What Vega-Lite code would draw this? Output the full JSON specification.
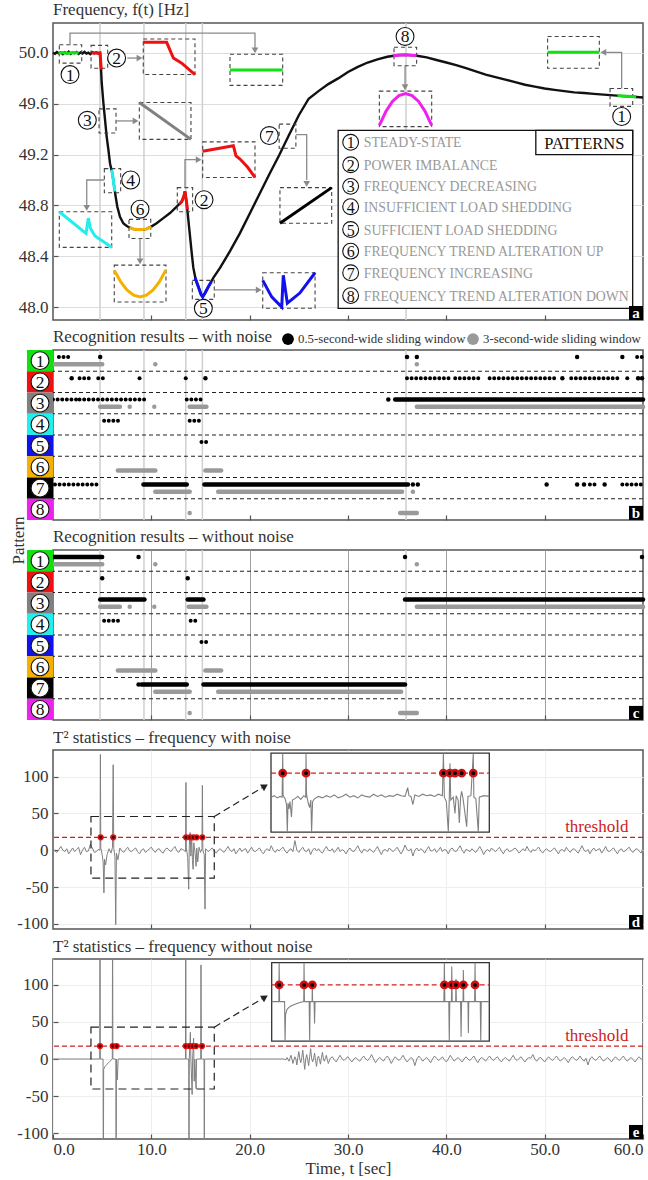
{
"$schema": "https://vega.github.io/schema/vega-lite/v6.json",
"background": "white",
"padding": {"left": 8, "top": 0, "right": 0, "bottom": 5},
"spacing": 30,
"bounds": "flush",
"config": {
 "font": "Liberation Serif",
 "view": {"stroke": "#555555", "strokeWidth": 1.5},
 "axis": {"domain": false, "grid": false, "labelFont": "Liberation Serif", "labelFontSize": 17, "labelColor": "#333333", "titleFont": "Liberation Serif", "titleFontSize": 17, "titleFontWeight": "normal", "titleColor": "#333333", "tickColor": "#555555", "tickWidth": 1.2, "tickSize": -5, "labelPadding": 10},
 "title": {"font": "Liberation Serif", "fontSize": 17, "fontWeight": "normal", "anchor": "start", "frame": "group", "color": "#333333", "offset": 3},
 "legend": {"labelFont": "Liberation Serif"}
},
"datasets": {
 "events": [{"t":4.78},{"t":9.25},{"t":13.5},{"t":15.19},{"t":35.9}],
 "freq": [
  {"t":0,"f":50.002},{"t":0.2,"f":49.994},{"t":0.4,"f":50.008},{"t":0.6,"f":49.997},{"t":0.8,"f":50.004},{"t":1.0,"f":49.991},{"t":1.2,"f":50.006},{"t":1.4,"f":49.996},{"t":1.6,"f":50.01},{"t":1.8,"f":49.993},{"t":2.0,"f":50.003},{"t":2.2,"f":49.998},{"t":2.4,"f":50.007},{"t":2.6,"f":49.992},{"t":2.8,"f":50.005},{"t":3.0,"f":49.996},{"t":3.2,"f":50.009},{"t":3.4,"f":49.995},{"t":3.6,"f":50.002},{"t":3.8,"f":49.991},{"t":4.0,"f":50.006},{"t":4.2,"f":49.997},{"t":4.4,"f":50.004},{"t":4.6,"f":49.994},
  {"t":4.78,"f":50.0},{"t":4.85,"f":49.93},{"t":4.95,"f":49.77},{"t":5.12,"f":49.61},{"t":5.29,"f":49.475},{"t":5.46,"f":49.34},{"t":5.63,"f":49.24},{"t":5.8,"f":49.13},{"t":6.04,"f":49.05},{"t":6.2,"f":48.96},{"t":6.37,"f":48.87},{"t":6.54,"f":48.79},{"t":6.81,"f":48.71},{"t":7.15,"f":48.66},{"t":7.4,"f":48.643},{"t":7.66,"f":48.63},{"t":8.17,"f":48.615},{"t":8.5,"f":48.61},{"t":8.85,"f":48.608},{"t":9.2,"f":48.61},{"t":9.52,"f":48.615},{"t":10.03,"f":48.635},{"t":10.54,"f":48.66},{"t":11.22,"f":48.7},{"t":11.9,"f":48.74},{"t":12.58,"f":48.79},{"t":13.09,"f":48.83},{"t":13.3,"f":48.87},{"t":13.42,"f":48.91},{"t":13.59,"f":48.82},{"t":13.76,"f":48.69},{"t":13.93,"f":48.56},{"t":14.1,"f":48.43},{"t":14.27,"f":48.31},{"t":14.5,"f":48.22},{"t":14.78,"f":48.16},{"t":15.05,"f":48.1},{"t":15.22,"f":48.08},{"t":15.46,"f":48.11},{"t":15.8,"f":48.16},{"t":16.3,"f":48.23},
  {"t":17,"f":48.31},{"t":18,"f":48.44},{"t":19,"f":48.58},{"t":20,"f":48.735},{"t":21,"f":48.89},{"t":22,"f":49.045},{"t":23,"f":49.195},{"t":24,"f":49.355},{"t":25,"f":49.51},{"t":26,"f":49.64},{"t":27,"f":49.7},{"t":28,"f":49.755},{"t":29,"f":49.8},{"t":30,"f":49.85},{"t":31,"f":49.89},{"t":32,"f":49.925},{"t":33,"f":49.95},{"t":34,"f":49.97},{"t":35,"f":49.982},{"t":36,"f":49.985},{"t":37,"f":49.978},{"t":38,"f":49.965},{"t":39,"f":49.945},{"t":40,"f":49.925},{"t":41,"f":49.905},{"t":42,"f":49.88},{"t":43,"f":49.855},{"t":44,"f":49.83},{"t":45,"f":49.81},{"t":46,"f":49.79},{"t":47,"f":49.77},{"t":48,"f":49.75},{"t":49,"f":49.735},{"t":50,"f":49.72},{"t":51,"f":49.71},{"t":52,"f":49.7},{"t":53,"f":49.69},{"t":54,"f":49.685},{"t":55,"f":49.678},{"t":56,"f":49.672},{"t":57,"f":49.666},{"t":58,"f":49.66},{"t":59,"f":49.655},{"t":60,"f":49.65}
 ],
 "curves": [
  {"id":"g1","c":1,"t":0.55,"f":50.0},{"id":"g1","c":1,"t":1.0,"f":50.004},{"id":"g1","c":1,"t":1.5,"f":49.996},{"id":"g1","c":1,"t":2.0,"f":50.004},{"id":"g1","c":1,"t":2.6,"f":50.0},
  {"id":"r2a","c":2,"t":3.95,"f":50.0},{"id":"r2a","c":2,"t":4.4,"f":50.002},{"id":"r2a","c":2,"t":4.78,"f":50.0},{"id":"r2a","c":2,"t":4.85,"f":49.93},{"id":"r2a","c":2,"t":4.9,"f":49.87},
  {"id":"cy4","c":4,"t":5.97,"f":49.08},{"id":"cy4","c":4,"t":6.04,"f":49.05},{"id":"cy4","c":4,"t":6.2,"f":48.96},{"id":"cy4","c":4,"t":6.3,"f":48.91},
  {"id":"or6","c":6,"t":7.8,"f":48.625},{"id":"or6","c":6,"t":8.17,"f":48.615},{"id":"or6","c":6,"t":8.85,"f":48.608},{"id":"or6","c":6,"t":9.52,"f":48.615},{"id":"or6","c":6,"t":10.0,"f":48.632},
  {"id":"r2b","c":2,"t":12.85,"f":48.81},{"id":"r2b","c":2,"t":13.09,"f":48.83},{"id":"r2b","c":2,"t":13.3,"f":48.87},{"id":"r2b","c":2,"t":13.42,"f":48.91},{"id":"r2b","c":2,"t":13.59,"f":48.82},{"id":"r2b","c":2,"t":13.66,"f":48.77},
  {"id":"b5","c":5,"t":14.45,"f":48.23},{"id":"b5","c":5,"t":14.78,"f":48.16},{"id":"b5","c":5,"t":15.05,"f":48.1},{"id":"b5","c":5,"t":15.22,"f":48.08},{"id":"b5","c":5,"t":15.46,"f":48.11},{"id":"b5","c":5,"t":15.8,"f":48.16},{"id":"b5","c":5,"t":16.1,"f":48.2},
  {"id":"m8","c":8,"t":34.6,"f":49.978},{"id":"m8","c":8,"t":35.2,"f":49.984},{"id":"m8","c":8,"t":35.8,"f":49.986},{"id":"m8","c":8,"t":36.4,"f":49.982},{"id":"m8","c":8,"t":36.95,"f":49.979},
  {"id":"g1b","c":1,"t":57.4,"f":49.664},{"id":"g1b","c":1,"t":58.4,"f":49.66},{"id":"g1b","c":1,"t":59.3,"f":49.656},
  {"id":"i2a","c":2,"t":9.18,"f":50.084},{"id":"i2a","c":2,"t":11.56,"f":50.084},{"id":"i2a","c":2,"t":12.24,"f":49.96},{"id":"i2a","c":2,"t":13.09,"f":49.92},{"id":"i2a","c":2,"t":14.44,"f":49.83},
  {"id":"i1a","c":1,"t":18.0,"f":49.866},{"id":"i1a","c":1,"t":23.36,"f":49.866},
  {"id":"i3","c":3,"t":8.78,"f":49.61},{"id":"i3","c":3,"t":14.03,"f":49.32},
  {"id":"i4","c":4,"t":0.64,"f":48.75},{"id":"i4","c":4,"t":3.36,"f":48.58},{"id":"i4","c":4,"t":3.59,"f":48.7},{"id":"i4","c":4,"t":3.8,"f":48.62},{"id":"i4","c":4,"t":4.27,"f":48.56},{"id":"i4","c":4,"t":5.97,"f":48.47},
  {"id":"i6","c":6,"t":6.23,"f":48.29},{"id":"i6","c":6,"t":6.89,"f":48.198},{"id":"i6","c":6,"t":7.54,"f":48.133},{"id":"i6","c":6,"t":8.2,"f":48.093},{"id":"i6","c":6,"t":8.85,"f":48.08},{"id":"i6","c":6,"t":9.5,"f":48.093},{"id":"i6","c":6,"t":10.16,"f":48.133},{"id":"i6","c":6,"t":10.81,"f":48.198},{"id":"i6","c":6,"t":11.47,"f":48.29},
  {"id":"i2b","c":2,"t":15.22,"f":49.226},{"id":"i2b","c":2,"t":18.34,"f":49.27},{"id":"i2b","c":2,"t":18.61,"f":49.19},{"id":"i2b","c":2,"t":19.02,"f":49.165},{"id":"i2b","c":2,"t":19.8,"f":49.1},{"id":"i2b","c":2,"t":20.54,"f":49.02},
  {"id":"i5","c":5,"t":21.33,"f":48.21},{"id":"i5","c":5,"t":22.24,"f":48.08},{"id":"i5","c":5,"t":23.26,"f":48.0},{"id":"i5","c":5,"t":23.42,"f":48.25},{"id":"i5","c":5,"t":23.83,"f":48.03},{"id":"i5","c":5,"t":25.1,"f":48.11},{"id":"i5","c":5,"t":26.65,"f":48.27},
  {"id":"i7","c":7,"t":23.08,"f":48.66},{"id":"i7","c":7,"t":28.34,"f":48.94},
  {"id":"i8","c":8,"t":33.19,"f":49.43},{"id":"i8","c":8,"t":33.85,"f":49.539},{"id":"i8","c":8,"t":34.52,"f":49.618},{"id":"i8","c":8,"t":35.18,"f":49.664},{"id":"i8","c":8,"t":35.85,"f":49.68},{"id":"i8","c":8,"t":36.52,"f":49.664},{"id":"i8","c":8,"t":37.18,"f":49.618},{"id":"i8","c":8,"t":37.85,"f":49.539},{"id":"i8","c":8,"t":38.51,"f":49.43},
  {"id":"i1b","c":1,"t":50.3,"f":50.005},{"id":"i1b","c":1,"t":55.56,"f":50.005}
 ],
 "boxes": [
  {"t":0.64,"t2":2.92,"f":49.92,"f2":50.065},{"t":3.87,"t2":5.56,"f":49.88,"f2":50.06},{"t":4.68,"t2":6.41,"f":49.37,"f2":49.56},{"t":5.22,"t2":6.88,"f":48.9,"f2":49.09},{"t":7.73,"t2":9.94,"f":48.54,"f2":48.69},{"t":12.64,"t2":14.2,"f":48.75,"f2":48.94},{"t":14.17,"t2":16.4,"f":48.06,"f2":48.21},{"t":23.0,"t2":24.7,"f":49.25,"f2":49.44},{"t":34.68,"t2":36.98,"f":49.9,"f2":50.045},{"t":56.65,"t2":58.95,"f":49.58,"f2":49.72},
  {"t":9.18,"t2":14.44,"f":49.83,"f2":50.11},{"t":18.0,"t2":23.36,"f":49.745,"f2":49.99},{"t":8.78,"t2":14.03,"f":49.32,"f2":49.61},{"t":0.64,"t2":5.97,"f":48.47,"f2":48.75},{"t":6.23,"t2":11.49,"f":48.04,"f2":48.33},{"t":15.22,"t2":20.54,"f":49.02,"f2":49.3},{"t":21.33,"t2":26.65,"f":47.99,"f2":48.27},{"t":23.08,"t2":28.34,"f":48.66,"f2":48.94},{"t":33.19,"t2":38.51,"f":49.42,"f2":49.7},{"t":50.3,"t2":55.56,"f":49.88,"f2":50.13}
 ],
 "conn": [
  {"id":"c1","o":1,"t":1.73,"f":50.065},{"id":"c1","o":2,"t":1.73,"f":50.157},{"id":"c1","o":3,"t":20.54,"f":50.157},{"id":"c1","o":4,"t":20.54,"f":50.03},
  {"id":"c2","o":1,"t":7.55,"f":49.96},{"id":"c2","o":2,"t":8.6,"f":49.96},
  {"id":"c3","o":1,"t":6.41,"f":49.465},{"id":"c3","o":2,"t":8.2,"f":49.465},
  {"id":"c4","o":1,"t":5.22,"f":49.0},{"id":"c4","o":2,"t":3.43,"f":49.0},{"id":"c4","o":3,"t":3.43,"f":48.8},
  {"id":"c6","o":1,"t":8.85,"f":48.54},{"id":"c6","o":2,"t":8.85,"f":48.38},
  {"id":"c2b","o":1,"t":13.42,"f":48.94},{"id":"c2b","o":2,"t":13.42,"f":49.16},{"id":"c2b","o":3,"t":14.6,"f":49.16},
  {"id":"c5","o":1,"t":16.4,"f":48.135},{"id":"c5","o":2,"t":20.7,"f":48.135},
  {"id":"c7","o":1,"t":24.7,"f":49.357},{"id":"c7","o":2,"t":25.8,"f":49.357},{"id":"c7","o":3,"t":25.8,"f":49.0},
  {"id":"c8","o":1,"t":35.8,"f":49.9},{"id":"c8","o":2,"t":35.8,"f":49.75},
  {"id":"c1b","o":1,"t":57.83,"f":49.72},{"id":"c1b","o":2,"t":57.83,"f":50.005},{"id":"c1b","o":3,"t":56.2,"f":50.005}
 ],
 "arrows": [
  {"t":20.54,"f":50.02,"d":"down"},{"t":8.8,"f":49.96,"d":"right"},{"t":8.4,"f":49.465,"d":"right"},{"t":3.43,"f":48.78,"d":"down"},{"t":8.85,"f":48.36,"d":"down"},{"t":14.81,"f":49.16,"d":"right"},{"t":20.92,"f":48.135,"d":"right"},{"t":25.8,"f":48.97,"d":"down"},{"t":35.8,"f":49.73,"d":"down"},{"t":55.97,"f":50.005,"d":"left"}
 ],
 "circ": [
  {"t":1.73,"f":49.83,"n":1},{"t":6.47,"f":49.96,"n":2},{"t":3.49,"f":49.47,"n":3},{"t":7.9,"f":49.0,"n":4},{"t":8.85,"f":48.77,"n":6},{"t":15.36,"f":48.845,"n":2},{"t":15.29,"f":47.99,"n":5},{"t":22.0,"f":49.35,"n":7},{"t":35.8,"f":50.13,"n":8},{"t":57.83,"f":49.5,"n":1}
 ],
 "legbox": [{"t":29.0,"t2":58.95,"f":47.99,"f2":49.39},{"t":49.1,"t2":58.95,"f":49.2,"f2":49.39}],
 "legent": [
  {"n":1,"label":"STEADY-STATE","f":49.297},{"n":2,"label":"POWER IMBALANCE","f":49.12},{"n":3,"label":"FREQUENCY DECREASING","f":48.95},{"n":4,"label":"INSUFFICIENT LOAD SHEDDING","f":48.79},{"n":5,"label":"SUFFICIENT LOAD SHEDDING","f":48.61},{"n":6,"label":"FREQUENCY TREND ALTERATION UP","f":48.44},{"n":7,"label":"FREQUENCY INCREASING","f":48.27},{"n":8,"label":"FREQUENCY TREND ALTERATION DOWN","f":48.09}
 ],
 "seps": [{"p":1},{"p":2},{"p":3},{"p":4},{"p":5},{"p":6},{"p":7}],
 "labs": [{"p":1},{"p":2},{"p":3},{"p":4},{"p":5},{"p":6},{"p":7},{"p":8}],
 "runsB": [
  {"p":1,"w":"0.5","t0":0.6,"t1":1.8,"s":"dots"},{"p":1,"w":"0.5","t0":59.4,"t1":59.9,"s":"dots"},{"p":1,"w":"3","t0":0,"t1":5.0,"s":"solid"},
  {"p":2,"w":"0.5","t0":2.7,"t1":4.1,"s":"dots"},{"p":2,"w":"0.5","t0":4.6,"t1":5.3,"s":"dots"},{"p":2,"w":"0.5","t0":8.8,"t1":9.2,"s":"dots"},{"p":2,"w":"0.5","t0":13.5,"t1":13.8,"s":"dots"},{"p":2,"w":"0.5","t0":36.0,"t1":40.4,"s":"dots"},{"p":2,"w":"0.5","t0":40.9,"t1":43.7,"s":"dots"},{"p":2,"w":"0.5","t0":44.4,"t1":51.4,"s":"dots"},{"p":2,"w":"0.5","t0":52.7,"t1":57.4,"s":"dots"},{"p":2,"w":"0.5","t0":58.4,"t1":58.8,"s":"dots"},
  {"p":3,"w":"0.5","t0":0,"t1":2.4,"s":"dots"},{"p":3,"w":"0.5","t0":2.7,"t1":9.3,"s":"dots"},{"p":3,"w":"0.5","t0":13.6,"t1":15.4,"s":"dots"},{"p":3,"w":"0.5","t0":34.8,"t1":60,"s":"solid"},{"p":3,"w":"3","t0":4.8,"t1":6.8,"s":"solid"},{"p":3,"w":"3","t0":13.9,"t1":15.6,"s":"solid"},{"p":3,"w":"3","t0":37.0,"t1":60,"s":"solid"},
  {"p":4,"w":"0.5","t0":5.2,"t1":6.9,"s":"dots"},{"p":4,"w":"0.5","t0":13.9,"t1":14.9,"s":"dots"},
  {"p":5,"w":"0.5","t0":15.1,"t1":15.9,"s":"dots"},
  {"p":6,"w":"3","t0":6.6,"t1":10.4,"s":"solid"},{"p":6,"w":"3","t0":15.5,"t1":17.1,"s":"solid"},
  {"p":7,"w":"0.5","t0":0.2,"t1":4.6,"s":"dots"},{"p":7,"w":"0.5","t0":9.2,"t1":13.6,"s":"solid"},{"p":7,"w":"0.5","t0":15.4,"t1":36.1,"s":"solid"},{"p":7,"w":"0.5","t0":54.6,"t1":55.4,"s":"dots"},{"p":7,"w":"0.5","t0":57.9,"t1":59.9,"s":"dots"},{"p":7,"w":"3","t0":10.4,"t1":13.9,"s":"solid"},{"p":7,"w":"3","t0":16.8,"t1":35.5,"s":"solid"},
  {"p":8,"w":"3","t0":35.3,"t1":37.0,"s":"solid"}
 ],
 "ptsB": [
  {"p":1,"w":"0.5","t":4.8},{"p":1,"w":"0.5","t":36.0},{"p":1,"w":"0.5","t":37.0},{"p":1,"w":"0.5","t":53.3},{"p":1,"w":"0.5","t":57.9},{"p":1,"w":"3","t":10.4},{"p":1,"w":"3","t":37.0},
  {"p":2,"w":"0.5","t":1.9},{"p":2,"w":"0.5","t":15.5},{"p":2,"w":"0.5","t":51.8},{"p":2,"w":"0.5","t":59.5},{"p":2,"w":"0.5","t":59.9},
  {"p":3,"w":"0.5","t":34.1},{"p":3,"w":"3","t":7.8},{"p":3,"w":"3","t":10.3},
  {"p":7,"w":"0.5","t":36.6},{"p":7,"w":"0.5","t":37.1},{"p":7,"w":"0.5","t":50.2},{"p":7,"w":"0.5","t":53.3},{"p":7,"w":"0.5","t":54.0},{"p":7,"w":"0.5","t":56.1},{"p":7,"w":"3","t":36.6},
  {"p":8,"w":"3","t":13.9}
 ],
 "runsC": [
  {"p":1,"w":"0.5","t0":0,"t1":5.0,"s":"solid"},{"p":1,"w":"3","t0":0,"t1":5.0,"s":"solid"},
  {"p":3,"w":"0.5","t0":4.8,"t1":9.3,"s":"solid"},{"p":3,"w":"0.5","t0":13.7,"t1":15.3,"s":"solid"},{"p":3,"w":"0.5","t0":35.8,"t1":60,"s":"solid"},{"p":3,"w":"3","t0":4.8,"t1":6.8,"s":"solid"},{"p":3,"w":"3","t0":13.8,"t1":15.6,"s":"solid"},{"p":3,"w":"3","t0":37.0,"t1":60,"s":"solid"},
  {"p":4,"w":"0.5","t0":5.2,"t1":6.8,"s":"dots"},{"p":4,"w":"0.5","t0":14.0,"t1":14.9,"s":"dots"},
  {"p":5,"w":"0.5","t0":15.1,"t1":15.8,"s":"dots"},
  {"p":6,"w":"3","t0":6.6,"t1":10.4,"s":"solid"},{"p":6,"w":"3","t0":15.5,"t1":17.1,"s":"solid"},
  {"p":7,"w":"0.5","t0":9.0,"t1":13.6,"s":"solid"},{"p":7,"w":"0.5","t0":15.3,"t1":35.8,"s":"solid"},{"p":7,"w":"3","t0":10.4,"t1":13.9,"s":"solid"},{"p":7,"w":"3","t0":16.8,"t1":35.4,"s":"solid"},
  {"p":8,"w":"3","t0":35.3,"t1":37.0,"s":"solid"}
 ],
 "ptsC": [
  {"p":1,"w":"0.5","t":8.7},{"p":1,"w":"0.5","t":35.8},{"p":1,"w":"0.5","t":59.9},{"p":1,"w":"3","t":10.4},{"p":1,"w":"3","t":37.0},
  {"p":2,"w":"0.5","t":5.0},{"p":2,"w":"0.5","t":13.7},
  {"p":3,"w":"3","t":7.8},{"p":3,"w":"3","t":10.3},
  {"p":7,"w":"0.5","t":8.7},
  {"p":8,"w":"3","t":13.9}
 ],
 "td": [
  {"t":0,"v":2},{"t":0.2,"v":-1},{"t":0.4,"v":-3},{"t":0.6,"v":1},{"t":0.8,"v":5},{"t":1.0,"v":0},{"t":1.2,"v":-2},{"t":1.4,"v":2},{"t":1.6,"v":-5},{"t":1.8,"v":-1},{"t":2.0,"v":3},{"t":2.2,"v":-2},{"t":2.4,"v":1},{"t":2.6,"v":4},{"t":2.8,"v":-6},{"t":3.0,"v":0},{"t":3.2,"v":4},{"t":3.4,"v":-2},{"t":3.6,"v":-1},{"t":3.8,"v":8},{"t":4.0,"v":3},{"t":4.2,"v":-3},{"t":4.4,"v":-2},{"t":4.6,"v":1},
  {"t":4.78,"v":0},{"t":4.82,"v":130},{"t":4.86,"v":3},{"t":5.0,"v":-6},{"t":5.1,"v":-16},{"t":5.18,"v":-58},{"t":5.24,"v":-12},{"t":5.35,"v":-20},{"t":5.5,"v":-6},{"t":5.7,"v":2},{"t":5.9,"v":-4},{"t":6.05,"v":4},{"t":6.12,"v":116},{"t":6.18,"v":2},{"t":6.3,"v":-9},{"t":6.38,"v":-101},{"t":6.45,"v":-4},{"t":6.6,"v":-13},{"t":6.8,"v":3},
  {"t":7.0,"v":-1},{"t":7.2,"v":-3},{"t":7.4,"v":1},{"t":7.6,"v":4},{"t":7.8,"v":-1},{"t":8.0,"v":-2},{"t":8.2,"v":1},{"t":8.4,"v":3},{"t":8.6,"v":-2},{"t":8.8,"v":-5},{"t":9.0,"v":0},{"t":9.2,"v":2},{"t":9.4,"v":-3},{"t":9.6,"v":-1},{"t":9.8,"v":2},{"t":10.0,"v":4},{"t":10.2,"v":0},{"t":10.4,"v":-3},{"t":10.6,"v":1},{"t":10.8,"v":2},{"t":11.0,"v":-2},{"t":11.2,"v":-4},{"t":11.4,"v":1},{"t":11.6,"v":3},{"t":11.8,"v":0},{"t":12.0,"v":-2},{"t":12.2,"v":2},{"t":12.4,"v":5},{"t":12.6,"v":-1},{"t":12.8,"v":-3},{"t":13.0,"v":2},{"t":13.2,"v":1},
  {"t":13.48,"v":-2},{"t":13.52,"v":92},{"t":13.56,"v":3},{"t":13.7,"v":-10},{"t":13.8,"v":-53},{"t":13.86,"v":6},{"t":13.95,"v":24},{"t":14.02,"v":-8},{"t":14.1,"v":20},{"t":14.18,"v":-14},{"t":14.25,"v":-26},{"t":14.32,"v":10},{"t":14.45,"v":-4},{"t":14.55,"v":-22},{"t":14.62,"v":3},{"t":14.72,"v":-16},{"t":14.85,"v":4},{"t":15.0,"v":-3},{"t":15.15,"v":2},{"t":15.19,"v":88},{"t":15.24,"v":0},{"t":15.38,"v":-6},{"t":15.46,"v":-80},{"t":15.52,"v":2},{"t":15.8,"v":-2},
  {"t":16.0,"v":1},{"t":16.2,"v":3},{"t":16.4,"v":-1},{"t":16.6,"v":-4},{"t":16.8,"v":0},{"t":17.0,"v":2},{"t":17.2,"v":-1},{"t":17.4,"v":-3},{"t":17.6,"v":1},{"t":17.8,"v":5},{"t":18.0,"v":0},{"t":18.2,"v":-2},{"t":18.4,"v":2},{"t":18.6,"v":-5},{"t":18.8,"v":-1},{"t":19.0,"v":3},{"t":19.2,"v":-2},{"t":19.4,"v":1},{"t":19.6,"v":2},{"t":19.8,"v":-4},{"t":20.0,"v":0},{"t":20.2,"v":4},{"t":20.4,"v":-1},{"t":20.6,"v":-2},{"t":20.8,"v":1},{"t":21.0,"v":3},{"t":21.2,"v":-2},{"t":21.4,"v":-5},{"t":21.6,"v":0},{"t":21.8,"v":2},{"t":22.0,"v":-1},{"t":22.2,"v":6},{"t":22.4,"v":0},{"t":22.6,"v":-3},{"t":22.8,"v":1},{"t":23.0,"v":-1},{"t":23.2,"v":2},{"t":23.4,"v":4},{"t":23.6,"v":-1},{"t":23.8,"v":-4},{"t":24.0,"v":0},{"t":24.2,"v":2},{"t":24.4,"v":-2},{"t":24.6,"v":13},{"t":24.8,"v":0},{"t":25.0,"v":-3},{"t":25.2,"v":1},{"t":25.4,"v":4},{"t":25.6,"v":-1},{"t":25.8,"v":-2},{"t":26.0,"v":2},{"t":26.2,"v":-6},{"t":26.4,"v":0},{"t":26.6,"v":3},{"t":26.8,"v":-1},{"t":27.0,"v":2},{"t":27.2,"v":-2},{"t":27.4,"v":-4},{"t":27.6,"v":1},{"t":27.8,"v":5},{"t":28.0,"v":0},{"t":28.2,"v":-1},{"t":28.4,"v":2},{"t":28.6,"v":-3},{"t":28.8,"v":0},{"t":29.0,"v":4},{"t":29.2,"v":-2},{"t":29.4,"v":1},{"t":29.6,"v":-1},{"t":29.8,"v":-5},{"t":30.0,"v":0},{"t":30.2,"v":3},{"t":30.4,"v":-1},{"t":30.6,"v":-2},{"t":30.8,"v":2},{"t":31.0,"v":6},{"t":31.2,"v":0},{"t":31.4,"v":-4},{"t":31.6,"v":1},{"t":31.8,"v":0},{"t":32.0,"v":-2},{"t":32.2,"v":2},{"t":32.4,"v":-1},{"t":32.6,"v":-3},{"t":32.8,"v":1},{"t":33.0,"v":5},{"t":33.2,"v":-1},{"t":33.4,"v":-6},{"t":33.6,"v":0},{"t":33.8,"v":1},{"t":34.0,"v":-2},{"t":34.2,"v":3},{"t":34.4,"v":0},{"t":34.6,"v":-2},{"t":34.8,"v":1},{"t":35.0,"v":4},{"t":35.2,"v":-1},{"t":35.4,"v":-5},{"t":35.6,"v":0},{"t":35.8,"v":7},{"t":36.0,"v":1},{"t":36.2,"v":-1},{"t":36.4,"v":2},{"t":36.6,"v":-8},{"t":36.8,"v":0},{"t":37.0,"v":3},{"t":37.2,"v":-1},{"t":37.4,"v":2},{"t":37.6,"v":0},{"t":37.8,"v":-4},{"t":38.0,"v":1},{"t":38.2,"v":5},{"t":38.4,"v":-1},{"t":38.6,"v":-1},{"t":38.8,"v":2},{"t":39.0,"v":-3},{"t":39.2,"v":0},{"t":39.4,"v":4},{"t":39.6,"v":-2},{"t":39.8,"v":1},{"t":40.0,"v":0},{"t":40.2,"v":-5},{"t":40.4,"v":1},{"t":40.6,"v":3},{"t":40.8,"v":-1},{"t":41.0,"v":-2},{"t":41.2,"v":2},{"t":41.4,"v":6},{"t":41.6,"v":0},{"t":41.8,"v":-4},{"t":42.0,"v":1},{"t":42.2,"v":0},{"t":42.4,"v":-2},{"t":42.6,"v":2},{"t":42.8,"v":-1},{"t":43.0,"v":-3},{"t":43.2,"v":1},{"t":43.4,"v":5},{"t":43.6,"v":0},{"t":43.8,"v":-6},{"t":44.0,"v":-1},{"t":44.2,"v":1},{"t":44.4,"v":-2},{"t":44.6,"v":3},{"t":44.8,"v":0},{"t":45.0,"v":-2},{"t":45.2,"v":1},{"t":45.4,"v":4},{"t":45.6,"v":-1},{"t":45.8,"v":-5},{"t":46.0,"v":0},{"t":46.2,"v":2},{"t":46.4,"v":-2},{"t":46.6,"v":-1},{"t":46.8,"v":1},{"t":47.0,"v":3},{"t":47.2,"v":0},{"t":47.4,"v":-4},{"t":47.6,"v":-1},{"t":47.8,"v":2},{"t":48.0,"v":-1},{"t":48.2,"v":5},{"t":48.4,"v":0},{"t":48.6,"v":-3},{"t":48.8,"v":1},{"t":49.0,"v":-1},{"t":49.2,"v":2},{"t":49.4,"v":4},{"t":49.6,"v":-1},{"t":49.8,"v":-4},{"t":50.0,"v":0},{"t":50.2,"v":2},{"t":50.4,"v":-1},{"t":50.6,"v":-2},{"t":50.8,"v":1},{"t":51.0,"v":3},{"t":51.2,"v":-1},{"t":51.4,"v":-5},{"t":51.6,"v":0},{"t":51.8,"v":1},{"t":52.0,"v":-2},{"t":52.2,"v":4},{"t":52.4,"v":0},{"t":52.6,"v":-3},{"t":52.8,"v":1},{"t":53.0,"v":2},{"t":53.2,"v":-1},{"t":53.4,"v":-4},{"t":53.6,"v":1},{"t":53.8,"v":6},{"t":54.0,"v":0},{"t":54.2,"v":-2},{"t":54.4,"v":1},{"t":54.6,"v":-5},{"t":54.8,"v":0},{"t":55.0,"v":3},{"t":55.2,"v":-1},{"t":55.4,"v":1},{"t":55.6,"v":2},{"t":55.8,"v":-4},{"t":56.0,"v":0},{"t":56.2,"v":5},{"t":56.4,"v":-1},{"t":56.6,"v":-2},{"t":56.8,"v":1},{"t":57.0,"v":3},{"t":57.2,"v":-1},{"t":57.4,"v":-5},{"t":57.6,"v":0},{"t":57.8,"v":2},{"t":58.0,"v":-2},{"t":58.2,"v":-1},{"t":58.4,"v":2},{"t":58.6,"v":4},{"t":58.8,"v":-1},{"t":59.0,"v":-3},{"t":59.2,"v":1},{"t":59.4,"v":2},{"t":59.6,"v":-1},{"t":59.8,"v":-4},{"t":60,"v":3}
 ],
 "tdi": [
  {"t":22.17,"v":72},{"t":22.5,"v":74},{"t":22.8,"v":71},{"t":23.1,"v":73},{"t":23.3,"v":72},{"t":23.36,"v":131},{"t":23.4,"v":74},{"t":23.6,"v":70},{"t":23.75,"v":62},{"t":23.83,"v":25},{"t":23.9,"v":64},{"t":24.0,"v":56},{"t":24.1,"v":66},{"t":24.25,"v":45},{"t":24.35,"v":68},{"t":24.6,"v":70},{"t":24.9,"v":73},{"t":25.2,"v":69},{"t":25.5,"v":74},{"t":25.7,"v":72},{"t":25.73,"v":131},{"t":25.78,"v":76},{"t":25.95,"v":64},{"t":26.1,"v":58},{"t":26.22,"v":68},{"t":26.3,"v":25},{"t":26.4,"v":66},{"t":26.6,"v":70},{"t":27.0,"v":73},{"t":27.4,"v":71},{"t":27.8,"v":74},{"t":28.2,"v":72},{"t":28.6,"v":75},{"t":29.0,"v":71},{"t":29.4,"v":73},{"t":29.8,"v":76},{"t":30.2,"v":72},{"t":30.6,"v":74},{"t":31.0,"v":71},{"t":31.4,"v":75},{"t":31.8,"v":73},{"t":32.2,"v":72},{"t":32.6,"v":76},{"t":33.0,"v":73},{"t":33.4,"v":75},{"t":33.8,"v":72},{"t":34.2,"v":74},{"t":34.6,"v":73},{"t":35.0,"v":76},{"t":35.4,"v":74},{"t":35.8,"v":73},{"t":36.07,"v":85},{"t":36.2,"v":74},{"t":36.4,"v":73},{"t":36.6,"v":62},{"t":36.8,"v":75},{"t":37.2,"v":73},{"t":37.6,"v":76},{"t":38.0,"v":74},{"t":38.4,"v":75},{"t":38.8,"v":73},{"t":39.2,"v":76},{"t":39.6,"v":74},{"t":39.7,"v":131},{"t":39.8,"v":72},{"t":40.0,"v":66},{"t":40.2,"v":25},{"t":40.3,"v":70},{"t":40.37,"v":118},{"t":40.45,"v":68},{"t":40.7,"v":72},{"t":40.88,"v":50},{"t":41.0,"v":74},{"t":41.2,"v":68},{"t":41.32,"v":37},{"t":41.45,"v":72},{"t":41.56,"v":80},{"t":41.7,"v":70},{"t":42.07,"v":32},{"t":42.2,"v":73},{"t":42.5,"v":74},{"t":42.74,"v":131},{"t":42.8,"v":72},{"t":43.0,"v":70},{"t":43.25,"v":25},{"t":43.35,"v":72},{"t":43.8,"v":74},{"t":44.37,"v":73}
 ],
 "te": [
  {"t":0,"v":0},{"t":4.75,"v":0},{"t":4.78,"v":200},{"t":4.81,"v":0},{"t":5.09,"v":0},{"t":5.12,"v":-200},{"t":5.15,"v":-14},{"t":5.3,"v":-10},{"t":5.5,"v":-7},{"t":5.8,"v":-3},{"t":6.03,"v":0},{"t":6.06,"v":200},{"t":6.09,"v":0},{"t":6.39,"v":0},{"t":6.42,"v":-200},{"t":6.45,"v":0},{"t":6.55,"v":-28},{"t":6.62,"v":0},
  {"t":13.47,"v":0},{"t":13.5,"v":200},{"t":13.53,"v":0},{"t":13.8,"v":0},{"t":13.83,"v":-200},{"t":13.86,"v":0},{"t":13.97,"v":36},{"t":14.02,"v":0},{"t":14.15,"v":-48},{"t":14.2,"v":0},{"t":14.3,"v":28},{"t":14.36,"v":-30},{"t":14.42,"v":0},{"t":14.55,"v":-40},{"t":14.6,"v":0},{"t":15.02,"v":0},{"t":15.05,"v":127},{"t":15.09,"v":0},{"t":15.36,"v":0},{"t":15.39,"v":-200},{"t":15.42,"v":0},
  {"t":23.5,"v":0},{"t":23.7,"v":-1},{"t":23.8,"v":2},{"t":24.0,"v":-3},{"t":24.1,"v":1},{"t":24.2,"v":5},{"t":24.3,"v":0},{"t":24.4,"v":-6},{"t":24.5,"v":-1},{"t":24.6,"v":3},{"t":24.7,"v":0},{"t":24.8,"v":-8},{"t":24.9,"v":2},{"t":25.0,"v":10},{"t":25.1,"v":0},{"t":25.2,"v":-5},{"t":25.3,"v":2},{"t":25.4,"v":12},{"t":25.5,"v":-2},{"t":25.6,"v":-14},{"t":25.7,"v":0},{"t":25.8,"v":6},{"t":25.9,"v":-1},{"t":26.0,"v":-9},{"t":26.1,"v":3},{"t":26.2,"v":14},{"t":26.3,"v":1},{"t":26.4,"v":-4},{"t":26.5,"v":0},{"t":26.6,"v":8},{"t":26.7,"v":-2},{"t":26.8,"v":-10},{"t":26.9,"v":1},{"t":27.0,"v":4},{"t":27.1,"v":-1},{"t":27.2,"v":-7},{"t":27.3,"v":2},{"t":27.4,"v":9},{"t":27.5,"v":0},{"t":27.6,"v":-3},{"t":27.7,"v":1},{"t":27.8,"v":5},{"t":27.9,"v":-1},{"t":28.0,"v":-6},{"t":28.2,"v":1},{"t":28.4,"v":3},{"t":28.6,"v":-1},{"t":28.8,"v":-4},{"t":29.0,"v":1},{"t":29.2,"v":5},{"t":29.4,"v":0},{"t":29.6,"v":-2},{"t":29.8,"v":1},{"t":30.0,"v":3},{"t":30.2,"v":-1},{"t":30.4,"v":-4},{"t":30.6,"v":0},{"t":30.8,"v":2},{"t":31.0,"v":-1},{"t":31.2,"v":-3},{"t":31.4,"v":1},{"t":31.6,"v":4},{"t":31.8,"v":0},{"t":32.0,"v":-2},{"t":32.2,"v":1},{"t":32.4,"v":6},{"t":32.6,"v":0},{"t":32.8,"v":-5},{"t":33.0,"v":-1},{"t":33.2,"v":2},{"t":33.4,"v":0},{"t":33.6,"v":-3},{"t":33.8,"v":1},{"t":34.0,"v":4},{"t":34.2,"v":0},{"t":34.4,"v":-6},{"t":34.6,"v":-1},{"t":34.8,"v":3},{"t":35.0,"v":0},{"t":35.2,"v":-2},{"t":35.4,"v":1},{"t":35.6,"v":5},{"t":35.8,"v":0},{"t":36.0,"v":-4},{"t":36.2,"v":-1},{"t":36.4,"v":2},{"t":36.6,"v":0},{"t":36.8,"v":-9},{"t":37.0,"v":0},{"t":37.2,"v":4},{"t":37.4,"v":1},{"t":37.6,"v":-3},{"t":37.8,"v":0},{"t":38.0,"v":2},{"t":38.2,"v":-1},{"t":38.4,"v":-5},{"t":38.6,"v":0},{"t":38.8,"v":4},{"t":39.0,"v":1},{"t":39.2,"v":-2},{"t":39.4,"v":0},{"t":39.6,"v":3},{"t":39.8,"v":-1},{"t":40.0,"v":-4},{"t":40.2,"v":0},{"t":40.4,"v":5},{"t":40.6,"v":1},{"t":40.8,"v":-3},{"t":41.0,"v":0},{"t":41.2,"v":2},{"t":41.4,"v":-1},{"t":41.6,"v":-4},{"t":41.8,"v":0},{"t":42.0,"v":3},{"t":42.2,"v":0},{"t":42.4,"v":-2},{"t":42.6,"v":1},{"t":42.8,"v":4},{"t":43.0,"v":-1},{"t":43.2,"v":-5},{"t":43.4,"v":0},{"t":43.6,"v":2},{"t":43.8,"v":0},{"t":44.0,"v":-3},{"t":44.2,"v":1},{"t":44.4,"v":4},{"t":44.6,"v":0},{"t":44.8,"v":-2},{"t":45.0,"v":1},{"t":45.2,"v":3},{"t":45.4,"v":-1},{"t":45.6,"v":-4},{"t":45.8,"v":0},{"t":46.0,"v":2},{"t":46.2,"v":0},{"t":46.4,"v":-3},{"t":46.6,"v":1},{"t":46.8,"v":5},{"t":47.0,"v":0},{"t":47.2,"v":-2},{"t":47.4,"v":1},{"t":47.6,"v":3},{"t":47.8,"v":-1},{"t":48.0,"v":-4},{"t":48.2,"v":0},{"t":48.4,"v":2},{"t":48.6,"v":1},{"t":48.8,"v":6},{"t":49.0,"v":0},{"t":49.2,"v":-3},{"t":49.4,"v":1},{"t":49.6,"v":2},{"t":49.8,"v":-1},{"t":50.0,"v":-4},{"t":50.2,"v":0},{"t":50.4,"v":3},{"t":50.6,"v":0},{"t":50.8,"v":-2},{"t":51.0,"v":1},{"t":51.2,"v":4},{"t":51.4,"v":0},{"t":51.6,"v":-3},{"t":51.8,"v":0},{"t":52.0,"v":2},{"t":52.2,"v":-1},{"t":52.4,"v":-5},{"t":52.6,"v":0},{"t":52.8,"v":3},{"t":53.0,"v":1},{"t":53.2,"v":-2},{"t":53.4,"v":0},{"t":53.6,"v":4},{"t":53.8,"v":0},{"t":54.0,"v":-3},{"t":54.2,"v":1},{"t":54.4,"v":-8},{"t":54.6,"v":0},{"t":54.8,"v":3},{"t":55.0,"v":0},{"t":55.2,"v":-2},{"t":55.4,"v":1},{"t":55.6,"v":4},{"t":55.8,"v":0},{"t":56.0,"v":-3},{"t":56.2,"v":0},{"t":56.4,"v":2},{"t":56.6,"v":-1},{"t":56.8,"v":-4},{"t":57.0,"v":0},{"t":57.2,"v":3},{"t":57.4,"v":0},{"t":57.6,"v":-2},{"t":57.8,"v":1},{"t":58.0,"v":4},{"t":58.2,"v":0},{"t":58.4,"v":-3},{"t":58.6,"v":0},{"t":58.8,"v":2},{"t":59.0,"v":-1},{"t":59.2,"v":-4},{"t":59.4,"v":0},{"t":59.6,"v":3},{"t":59.8,"v":0},{"t":60,"v":-1}
 ],
 "tei": [
  {"t":22.24,"v":77.5},{"t":22.97,"v":77.5},{"t":23.0,"v":130},{"t":23.04,"v":77.5},{"t":23.55,"v":77.5},{"t":23.6,"v":24},{"t":23.65,"v":60},{"t":23.8,"v":67},{"t":24.1,"v":71},{"t":24.6,"v":74},{"t":25.2,"v":76.5},{"t":25.5,"v":77.5},{"t":25.53,"v":130},{"t":25.57,"v":77.5},{"t":26.05,"v":77.5},{"t":26.1,"v":24},{"t":26.15,"v":77.5},{"t":26.35,"v":77.5},{"t":26.37,"v":102},{"t":26.4,"v":77.5},{"t":26.55,"v":77.5},{"t":26.6,"v":48},{"t":26.65,"v":77.5},{"t":39.75,"v":77.5},{"t":39.8,"v":130},{"t":39.85,"v":77.5},{"t":40.25,"v":77.5},{"t":40.3,"v":24},{"t":40.35,"v":77.5},{"t":40.52,"v":77.5},{"t":40.55,"v":125},{"t":40.6,"v":77.5},{"t":40.95,"v":77.5},{"t":40.98,"v":108},{"t":41.02,"v":77.5},{"t":41.45,"v":77.5},{"t":41.5,"v":30},{"t":41.55,"v":77.5},{"t":41.7,"v":77.5},{"t":41.73,"v":120},{"t":41.77,"v":77.5},{"t":42.2,"v":77.5},{"t":42.24,"v":35},{"t":42.28,"v":77.5},{"t":42.88,"v":77.5},{"t":42.92,"v":130},{"t":42.96,"v":77.5},{"t":43.45,"v":77.5},{"t":43.5,"v":24},{"t":43.55,"v":77.5},{"t":44.37,"v":77.5}
 ],
 "dotsD": [{"t":4.85},{"t":6.13},{"t":13.53},{"t":13.93},{"t":14.27},{"t":14.61},{"t":15.19}],
 "idotsD": [{"t":23.36},{"t":25.73},{"t":39.7},{"t":40.37},{"t":40.88},{"t":41.56},{"t":42.74}],
 "dotsE": [{"t":4.78},{"t":6.07},{"t":6.47},{"t":13.5},{"t":13.86},{"t":14.2},{"t":14.54},{"t":15.15}],
 "idotsE": [{"t":23.0},{"t":25.53},{"t":26.37},{"t":39.8},{"t":40.55},{"t":40.98},{"t":41.73},{"t":42.92}],
 "thr": [{"v":17.5,"t":55.3,"label":"threshold"}],
 "dboxD": [{"t":3.86,"t2":16.4,"v":-38,"v2":45.7}],
 "darrD": [{"o":1,"t":16.4,"v":45.7},{"o":2,"t":21.3,"v":85}],
 "dheadD": [{"t":21.55,"v":86.9}],
 "ibD": [{"t":22.17,"t2":44.37,"v":24.5,"v2":131.7}],
 "iredD": [{"t":22.17,"t2":44.37,"v":104.6}],
 "dboxE": [{"t":3.86,"t2":16.4,"v":-40.5,"v2":43}],
 "darrE": [{"o":1,"t":16.4,"v":43},{"o":2,"t":21.3,"v":81.5}],
 "dheadE": [{"t":21.55,"v":83.3}],
 "ibE": [{"t":22.24,"t2":44.37,"v":24,"v2":130}],
 "iredE": [{"t":22.24,"t2":44.37,"v":100}]
},
"vconcat": [
 {
  "width": 590, "height": 297,
  "title": {"text": "Frequency, f(t) [Hz]"},
  "layer": [
   {"data": {"name": "events"}, "mark": {"type": "rule", "color": "#cfcfcf", "strokeWidth": 1.5},
    "encoding": {"x": {"field": "t", "type": "quantitative", "scale": {"domain": [0, 60], "nice": false, "zero": false}, "axis": {"title": null, "labels": false, "values": [10, 20, 30, 40, 50]}}}},
   {"data": {"name": "freq"}, "mark": {"type": "line", "color": "#111111", "strokeWidth": 2.4},
    "encoding": {"x": {"field": "t", "type": "quantitative"}, "y": {"field": "f", "type": "quantitative", "scale": {"domain": [47.898, 50.236], "nice": false, "zero": false}, "axis": {"title": null, "values": [48, 48.4, 48.8, 49.2, 49.6, 50], "format": ".1f", "grid": true, "gridColor": "#dddddd"}}}},
   {"data": {"name": "boxes"}, "mark": {"type": "rect", "fillOpacity": 0, "stroke": "#444444", "strokeWidth": 1.1, "strokeDash": [4, 3]},
    "encoding": {"x": {"field": "t", "type": "quantitative"}, "x2": {"field": "t2"}, "y": {"field": "f", "type": "quantitative"}, "y2": {"field": "f2"}}},
   {"data": {"name": "conn"}, "mark": {"type": "line", "color": "#8a8a8a", "strokeWidth": 1.3},
    "encoding": {"x": {"field": "t", "type": "quantitative"}, "y": {"field": "f", "type": "quantitative"}, "detail": {"field": "id"}, "order": {"field": "o"}}},
   {"data": {"name": "arrows"}, "mark": {"type": "point", "filled": true, "color": "#8a8a8a", "size": 45, "opacity": 1},
    "encoding": {"x": {"field": "t", "type": "quantitative"}, "y": {"field": "f", "type": "quantitative"}, "shape": {"field": "d", "type": "nominal", "scale": {"domain": ["down", "right", "left"], "range": ["triangle-down", "triangle-right", "triangle-left"]}, "legend": null}}},
   {"data": {"name": "curves"}, "mark": {"type": "line", "strokeWidth": 3},
    "encoding": {"x": {"field": "t", "type": "quantitative"}, "y": {"field": "f", "type": "quantitative"}, "detail": {"field": "id"}, "color": {"field": "c", "type": "ordinal", "scale": {"domain": [1, 2, 3, 4, 5, 6, 7, 8], "range": ["#11e011", "#ee1111", "#808080", "#22eeee", "#1111ee", "#f5b000", "#000000", "#ee22ee"]}, "legend": null}}},
   {"data": {"name": "legbox"}, "mark": {"type": "rect", "fill": "white", "stroke": "#111111", "strokeWidth": 1.3},
    "encoding": {"x": {"field": "t", "type": "quantitative"}, "x2": {"field": "t2"}, "y": {"field": "f", "type": "quantitative"}, "y2": {"field": "f2"}}},
   {"data": {"values": [{"k": "PATTERNS"}]}, "mark": {"type": "text", "fontSize": 16.5, "color": "#111111", "baseline": "middle", "dy": 1, "font": "Liberation Serif"},
    "encoding": {"x": {"datum": 54.03}, "y": {"datum": 49.295}, "text": {"field": "k"}}},
   {"data": {"name": "legent"}, "mark": {"type": "point", "shape": "circle", "filled": true, "fill": "white", "stroke": "#111111", "strokeWidth": 1.1, "size": 250, "opacity": 1},
    "encoding": {"x": {"datum": 30.27}, "y": {"field": "f", "type": "quantitative"}}},
   {"data": {"name": "legent"}, "mark": {"type": "text", "fontSize": 16, "color": "#111111", "baseline": "middle", "dy": 1, "font": "Liberation Serif"},
    "encoding": {"x": {"datum": 30.27}, "y": {"field": "f", "type": "quantitative"}, "text": {"field": "n"}}},
   {"data": {"name": "legent"}, "mark": {"type": "text", "fontSize": 13.8, "color": "#999999", "align": "left", "baseline": "middle", "dy": 1, "font": "Liberation Serif"},
    "encoding": {"x": {"datum": 31.6}, "y": {"field": "f", "type": "quantitative"}, "text": {"field": "label"}}},
   {"data": {"name": "circ"}, "mark": {"type": "point", "shape": "circle", "filled": true, "fill": "white", "stroke": "#111111", "strokeWidth": 1.1, "size": 320, "opacity": 1},
    "encoding": {"x": {"field": "t", "type": "quantitative"}, "y": {"field": "f", "type": "quantitative"}}},
   {"data": {"name": "circ"}, "mark": {"type": "text", "fontSize": 17.5, "color": "#111111", "baseline": "middle", "dy": 1, "font": "Liberation Serif"},
    "encoding": {"x": {"field": "t", "type": "quantitative"}, "y": {"field": "f", "type": "quantitative"}, "text": {"field": "n"}}},
   {"data": {"values": [{"k": "a"}]}, "mark": {"type": "point", "shape": "square", "filled": true, "color": "#000000", "size": 196, "opacity": 1},
    "encoding": {"x": {"datum": 59.29}, "y": {"datum": 47.953}}},
   {"data": {"values": [{"k": "a"}]}, "mark": {"type": "text", "fontSize": 15, "fontWeight": "bold", "color": "white", "baseline": "middle", "font": "Liberation Serif"},
    "encoding": {"x": {"datum": 59.29}, "y": {"datum": 47.953}, "text": {"field": "k"}}}
  ]
 },
 {
  "width": 590, "height": 170,
  "title": {"text": "Recognition results – with noise", "offset": -14},
  "resolve": {"scale": {"color": "independent", "fill": "independent", "stroke": "independent"}},
  "layer": [
   {"data": {"name": "events"}, "mark": {"type": "rule", "color": "#cfcfcf", "strokeWidth": 1.5},
    "encoding": {"x": {"field": "t", "type": "quantitative", "scale": {"domain": [0, 60], "nice": false, "zero": false}, "axis": {"title": null, "labels": false, "values": [10, 20, 30, 40, 50]}}}},
   {"data": {"name": "seps"}, "mark": {"type": "rule", "color": "#222222", "strokeWidth": 1.1, "strokeDash": [4, 3]},
    "encoding": {"y": {"field": "p", "type": "ordinal", "bandPosition": 1, "scale": {"domain": [1, 2, 3, 4, 5, 6, 7, 8], "paddingInner": 0, "paddingOuter": 0}, "axis": {"title": "Pattern", "labels": false, "ticks": false, "domain": false, "grid": false, "titleX": -35, "titleY": 190, "titleAngle": -90, "titleBaseline": "middle", "titleFontSize": 17}}}},
   {"data": {"name": "runsB"}, "transform": [{"filter": "datum.s == 'solid'"}], "mark": {"type": "rule", "strokeWidth": 4.5, "strokeCap": "round"},
    "encoding": {"x": {"field": "t0", "type": "quantitative"}, "x2": {"field": "t1"}, "y": {"field": "p", "type": "ordinal"}, "yOffset": {"field": "w", "type": "nominal", "scale": {"domain": ["0.5", "3"], "paddingInner": 0, "paddingOuter": 0.5}}, "stroke": {"field": "w", "type": "nominal", "scale": {"domain": ["0.5", "3"], "range": ["#000000", "#9a9a9a"]}, "legend": null}}},
   {"data": {"name": "runsB"}, "transform": [{"filter": "datum.s == 'dots'"}], "mark": {"type": "rule", "strokeWidth": 4, "strokeCap": "round", "strokeDash": [0.01, 4.6]},
    "encoding": {"x": {"field": "t0", "type": "quantitative"}, "x2": {"field": "t1"}, "y": {"field": "p", "type": "ordinal"}, "yOffset": {"field": "w", "type": "nominal"}, "stroke": {"field": "w", "type": "nominal", "scale": {"domain": ["0.5", "3"], "range": ["#000000", "#9a9a9a"]}, "legend": null}}},
   {"data": {"name": "ptsB"}, "mark": {"type": "point", "shape": "circle", "filled": true, "size": 20, "opacity": 1},
    "encoding": {"x": {"field": "t", "type": "quantitative"}, "y": {"field": "p", "type": "ordinal"}, "yOffset": {"field": "w", "type": "nominal"}, "color": {"field": "w", "type": "nominal", "scale": {"domain": ["0.5", "3"], "range": ["#000000", "#9a9a9a"]}, "legend": {"title": null, "orient": "none", "legendX": 228, "legendY": -18, "direction": "horizontal", "labelFontSize": 12.8, "labelColor": "#333333", "symbolSize": 140, "symbolType": "circle", "columnPadding": 0, "labelOffset": 3, "labelLimit": 300, "labelExpr": "datum.label == '0.5' ? '0.5-second-wide sliding window' : '3-second-wide sliding window'"}}}},
   {"data": {"name": "labs"}, "mark": {"type": "rect"},
    "encoding": {"x": {"datum": -2.65}, "x2": {"datum": 0}, "y": {"field": "p", "type": "ordinal"}, "fill": {"field": "p", "type": "ordinal", "scale": {"domain": [1, 2, 3, 4, 5, 6, 7, 8], "range": ["#11e011", "#ee1111", "#808080", "#22eeee", "#1111ee", "#f5b000", "#000000", "#ee22ee"]}, "legend": null}}},
   {"data": {"name": "labs"}, "mark": {"type": "point", "shape": "circle", "filled": true, "fill": "white", "stroke": "#111111", "strokeWidth": 1.1, "size": 320, "opacity": 1},
    "encoding": {"x": {"datum": -1.32}, "y": {"field": "p", "type": "ordinal"}}},
   {"data": {"name": "labs"}, "mark": {"type": "text", "fontSize": 17.5, "color": "#111111", "baseline": "middle", "dy": 1, "font": "Liberation Serif"},
    "encoding": {"x": {"datum": -1.32}, "y": {"field": "p", "type": "ordinal"}, "text": {"field": "p"}}},
   {"data": {"values": [{"k": "b", "p": 8, "w": "3"}]}, "mark": {"type": "point", "shape": "square", "filled": true, "fill": "#000000", "size": 196, "opacity": 1},
    "encoding": {"x": {"datum": 59.29}, "y": {"field": "p", "type": "ordinal"}, "yOffset": {"field": "w", "type": "nominal"}}},
   {"data": {"values": [{"k": "b", "p": 8, "w": "3"}]}, "mark": {"type": "text", "fontSize": 15, "fontWeight": "bold", "color": "white", "baseline": "middle", "font": "Liberation Serif"},
    "encoding": {"x": {"datum": 59.29}, "y": {"field": "p", "type": "ordinal"}, "yOffset": {"field": "w", "type": "nominal"}, "text": {"field": "k"}}}
  ]
 },
 {
  "width": 590, "height": 170,
  "title": {"text": "Recognition results – without noise"},
  "resolve": {"scale": {"color": "independent", "fill": "independent", "stroke": "independent"}},
  "layer": [
   {"data": {"name": "events"}, "mark": {"type": "rule", "color": "#cfcfcf", "strokeWidth": 1.5},
    "encoding": {"x": {"field": "t", "type": "quantitative", "scale": {"domain": [0, 60], "nice": false, "zero": false}, "axis": {"title": null, "labels": false, "values": [10, 20, 30, 40, 50], "grid": true, "gridColor": "#a0a0a0"}}}},
   {"data": {"name": "seps"}, "mark": {"type": "rule", "color": "#222222", "strokeWidth": 1.1, "strokeDash": [4, 3]},
    "encoding": {"y": {"field": "p", "type": "ordinal", "bandPosition": 1, "scale": {"domain": [1, 2, 3, 4, 5, 6, 7, 8], "paddingInner": 0, "paddingOuter": 0}, "axis": {"title": null, "labels": false, "ticks": false, "domain": false, "grid": false}}}},
   {"data": {"name": "runsC"}, "transform": [{"filter": "datum.s == 'solid'"}], "mark": {"type": "rule", "strokeWidth": 4.5, "strokeCap": "round"},
    "encoding": {"x": {"field": "t0", "type": "quantitative"}, "x2": {"field": "t1"}, "y": {"field": "p", "type": "ordinal"}, "yOffset": {"field": "w", "type": "nominal", "scale": {"domain": ["0.5", "3"], "paddingInner": 0, "paddingOuter": 0.5}}, "stroke": {"field": "w", "type": "nominal", "scale": {"domain": ["0.5", "3"], "range": ["#000000", "#9a9a9a"]}, "legend": null}}},
   {"data": {"name": "runsC"}, "transform": [{"filter": "datum.s == 'dots'"}], "mark": {"type": "rule", "strokeWidth": 4, "strokeCap": "round", "strokeDash": [0.01, 4.6]},
    "encoding": {"x": {"field": "t0", "type": "quantitative"}, "x2": {"field": "t1"}, "y": {"field": "p", "type": "ordinal"}, "yOffset": {"field": "w", "type": "nominal"}, "stroke": {"field": "w", "type": "nominal", "scale": {"domain": ["0.5", "3"], "range": ["#000000", "#9a9a9a"]}, "legend": null}}},
   {"data": {"name": "ptsC"}, "mark": {"type": "point", "shape": "circle", "filled": true, "size": 20, "opacity": 1},
    "encoding": {"x": {"field": "t", "type": "quantitative"}, "y": {"field": "p", "type": "ordinal"}, "yOffset": {"field": "w", "type": "nominal"}, "color": {"field": "w", "type": "nominal", "scale": {"domain": ["0.5", "3"], "range": ["#000000", "#9a9a9a"]}, "legend": null}}},
   {"data": {"name": "labs"}, "mark": {"type": "rect"},
    "encoding": {"x": {"datum": -2.65}, "x2": {"datum": 0}, "y": {"field": "p", "type": "ordinal"}, "fill": {"field": "p", "type": "ordinal", "scale": {"domain": [1, 2, 3, 4, 5, 6, 7, 8], "range": ["#11e011", "#ee1111", "#808080", "#22eeee", "#1111ee", "#f5b000", "#000000", "#ee22ee"]}, "legend": null}}},
   {"data": {"name": "labs"}, "mark": {"type": "point", "shape": "circle", "filled": true, "fill": "white", "stroke": "#111111", "strokeWidth": 1.1, "size": 320, "opacity": 1},
    "encoding": {"x": {"datum": -1.32}, "y": {"field": "p", "type": "ordinal"}}},
   {"data": {"name": "labs"}, "mark": {"type": "text", "fontSize": 17.5, "color": "#111111", "baseline": "middle", "dy": 1, "font": "Liberation Serif"},
    "encoding": {"x": {"datum": -1.32}, "y": {"field": "p", "type": "ordinal"}, "text": {"field": "p"}}},
   {"data": {"values": [{"k": "c", "p": 8, "w": "3"}]}, "mark": {"type": "point", "shape": "square", "filled": true, "fill": "#000000", "size": 196, "opacity": 1},
    "encoding": {"x": {"datum": 59.29}, "y": {"field": "p", "type": "ordinal"}, "yOffset": {"field": "w", "type": "nominal"}}},
   {"data": {"values": [{"k": "c", "p": 8, "w": "3"}]}, "mark": {"type": "text", "fontSize": 15, "fontWeight": "bold", "color": "white", "baseline": "middle", "font": "Liberation Serif"},
    "encoding": {"x": {"datum": 59.29}, "y": {"field": "p", "type": "ordinal"}, "yOffset": {"field": "w", "type": "nominal"}, "text": {"field": "k"}}}
  ]
 },
 {
  "width": 590, "height": 179,
  "title": {"text": "T² statistics – frequency with noise"},
  "layer": [
   {"data": {"name": "td"}, "mark": {"type": "line", "color": "#808080", "strokeWidth": 1, "clip": true},
    "encoding": {"x": {"field": "t", "type": "quantitative", "scale": {"domain": [0, 60], "nice": false, "zero": false}, "axis": {"title": null, "labels": false, "values": [10, 20, 30, 40, 50], "grid": true, "gridColor": "#eeeeee"}}, "y": {"field": "v", "type": "quantitative", "scale": {"domain": [-107, 136], "nice": false, "zero": false}, "axis": {"title": null, "values": [-100, -50, 0, 50, 100], "grid": true, "gridColor": "#eeeeee", "labelExpr": "replace(datum.label, '−', '-')"}}}},
   {"data": {"name": "thr"}, "mark": {"type": "rule", "color": "#d42020", "strokeWidth": 1.2, "strokeDash": [5, 3]},
    "encoding": {"y": {"field": "v", "type": "quantitative"}}},
   {"data": {"name": "dboxD"}, "mark": {"type": "rect", "fillOpacity": 0, "stroke": "#222222", "strokeWidth": 1.2, "strokeDash": [8, 5]},
    "encoding": {"x": {"field": "t", "type": "quantitative"}, "x2": {"field": "t2"}, "y": {"field": "v", "type": "quantitative"}, "y2": {"field": "v2"}}},
   {"data": {"name": "darrD"}, "mark": {"type": "line", "color": "#222222", "strokeWidth": 1.2, "strokeDash": [7, 4]},
    "encoding": {"x": {"field": "t", "type": "quantitative"}, "y": {"field": "v", "type": "quantitative"}, "order": {"field": "o"}}},
   {"data": {"name": "dheadD"}, "mark": {"type": "point", "shape": "triangle-right", "filled": true, "color": "#222222", "size": 60, "angle": -31, "opacity": 1},
    "encoding": {"x": {"field": "t", "type": "quantitative"}, "y": {"field": "v", "type": "quantitative"}}},
   {"data": {"name": "dotsD"}, "mark": {"type": "point", "shape": "circle", "filled": true, "fill": "#550000", "stroke": "#e01010", "strokeWidth": 1.5, "size": 22, "opacity": 1},
    "encoding": {"x": {"field": "t", "type": "quantitative"}, "y": {"datum": 17.5}}},
   {"data": {"name": "ibD"}, "mark": {"type": "rect", "fill": "white", "stroke": "#333333", "strokeWidth": 1.3},
    "encoding": {"x": {"field": "t", "type": "quantitative"}, "x2": {"field": "t2"}, "y": {"field": "v", "type": "quantitative"}, "y2": {"field": "v2"}}},
   {"data": {"name": "iredD"}, "mark": {"type": "rule", "color": "#d42020", "strokeWidth": 1.2, "strokeDash": [5, 3]},
    "encoding": {"x": {"field": "t", "type": "quantitative"}, "x2": {"field": "t2"}, "y": {"field": "v", "type": "quantitative"}}},
   {"data": {"name": "tdi"}, "mark": {"type": "line", "color": "#808080", "strokeWidth": 1.1},
    "encoding": {"x": {"field": "t", "type": "quantitative"}, "y": {"field": "v", "type": "quantitative"}}},
   {"data": {"name": "idotsD"}, "mark": {"type": "point", "shape": "circle", "filled": true, "fill": "#000000", "stroke": "#d01010", "strokeWidth": 2.5, "size": 40, "opacity": 1},
    "encoding": {"x": {"field": "t", "type": "quantitative"}, "y": {"datum": 104.6}}},
   {"data": {"name": "thr"}, "mark": {"type": "text", "color": "#cc2222", "fontSize": 17, "baseline": "bottom", "dy": -1, "font": "Liberation Serif"},
    "encoding": {"x": {"field": "t", "type": "quantitative"}, "y": {"field": "v", "type": "quantitative"}, "text": {"field": "label"}}},
   {"data": {"values": [{"k": "d"}]}, "mark": {"type": "point", "shape": "square", "filled": true, "color": "#000000", "size": 196, "opacity": 1},
    "encoding": {"x": {"datum": 59.29}, "y": {"datum": -97.5}}},
   {"data": {"values": [{"k": "d"}]}, "mark": {"type": "text", "fontSize": 15, "fontWeight": "bold", "color": "white", "baseline": "middle", "font": "Liberation Serif"},
    "encoding": {"x": {"datum": 59.29}, "y": {"datum": -97.5}, "text": {"field": "k"}}}
  ]
 },
 {
  "width": 590, "height": 180,
  "title": {"text": "T² statistics – frequency without noise"},
  "layer": [
   {"data": {"name": "te"}, "mark": {"type": "line", "color": "#808080", "strokeWidth": 1, "clip": true},
    "encoding": {"x": {"field": "t", "type": "quantitative", "scale": {"domain": [0, 60], "nice": false, "zero": false}, "axis": {"title": "Time, t [sec]", "values": [0, 10, 20, 30, 40, 50, 60], "format": ".1f", "grid": true, "gridColor": "#eeeeee", "labelPadding": 7, "titlePadding": 3}}, "y": {"field": "v", "type": "quantitative", "scale": {"domain": [-108, 135], "nice": false, "zero": false}, "axis": {"title": null, "values": [-100, -50, 0, 50, 100], "grid": true, "gridColor": "#eeeeee", "labelExpr": "replace(datum.label, '−', '-')"}}}},
   {"data": {"name": "thr"}, "mark": {"type": "rule", "color": "#d42020", "strokeWidth": 1.2, "strokeDash": [5, 3]},
    "encoding": {"y": {"field": "v", "type": "quantitative"}}},
   {"data": {"name": "dboxE"}, "mark": {"type": "rect", "fillOpacity": 0, "stroke": "#222222", "strokeWidth": 1.2, "strokeDash": [8, 5]},
    "encoding": {"x": {"field": "t", "type": "quantitative"}, "x2": {"field": "t2"}, "y": {"field": "v", "type": "quantitative"}, "y2": {"field": "v2"}}},
   {"data": {"name": "darrE"}, "mark": {"type": "line", "color": "#222222", "strokeWidth": 1.2, "strokeDash": [7, 4]},
    "encoding": {"x": {"field": "t", "type": "quantitative"}, "y": {"field": "v", "type": "quantitative"}, "order": {"field": "o"}}},
   {"data": {"name": "dheadE"}, "mark": {"type": "point", "shape": "triangle-right", "filled": true, "color": "#222222", "size": 60, "angle": -31, "opacity": 1},
    "encoding": {"x": {"field": "t", "type": "quantitative"}, "y": {"field": "v", "type": "quantitative"}}},
   {"data": {"name": "dotsE"}, "mark": {"type": "point", "shape": "circle", "filled": true, "fill": "#550000", "stroke": "#e01010", "strokeWidth": 1.5, "size": 22, "opacity": 1},
    "encoding": {"x": {"field": "t", "type": "quantitative"}, "y": {"datum": 17.5}}},
   {"data": {"name": "ibE"}, "mark": {"type": "rect", "fill": "white", "stroke": "#333333", "strokeWidth": 1.3},
    "encoding": {"x": {"field": "t", "type": "quantitative"}, "x2": {"field": "t2"}, "y": {"field": "v", "type": "quantitative"}, "y2": {"field": "v2"}}},
   {"data": {"name": "iredE"}, "mark": {"type": "rule", "color": "#d42020", "strokeWidth": 1.2, "strokeDash": [5, 3]},
    "encoding": {"x": {"field": "t", "type": "quantitative"}, "x2": {"field": "t2"}, "y": {"field": "v", "type": "quantitative"}}},
   {"data": {"name": "tei"}, "mark": {"type": "line", "color": "#808080", "strokeWidth": 1.1},
    "encoding": {"x": {"field": "t", "type": "quantitative"}, "y": {"field": "v", "type": "quantitative"}}},
   {"data": {"name": "idotsE"}, "mark": {"type": "point", "shape": "circle", "filled": true, "fill": "#000000", "stroke": "#d01010", "strokeWidth": 2.5, "size": 40, "opacity": 1},
    "encoding": {"x": {"field": "t", "type": "quantitative"}, "y": {"datum": 100}}},
   {"data": {"name": "thr"}, "mark": {"type": "text", "color": "#cc2222", "fontSize": 17, "baseline": "bottom", "dy": -1, "font": "Liberation Serif"},
    "encoding": {"x": {"field": "t", "type": "quantitative"}, "y": {"field": "v", "type": "quantitative"}, "text": {"field": "label"}}},
   {"data": {"values": [{"k": "e"}]}, "mark": {"type": "point", "shape": "square", "filled": true, "color": "#000000", "size": 196, "opacity": 1},
    "encoding": {"x": {"datum": 59.29}, "y": {"datum": -98.5}}},
   {"data": {"values": [{"k": "e"}]}, "mark": {"type": "text", "fontSize": 15, "fontWeight": "bold", "color": "white", "baseline": "middle", "font": "Liberation Serif"},
    "encoding": {"x": {"datum": 59.29}, "y": {"datum": -98.5}, "text": {"field": "k"}}}
  ]
 }
]
}
